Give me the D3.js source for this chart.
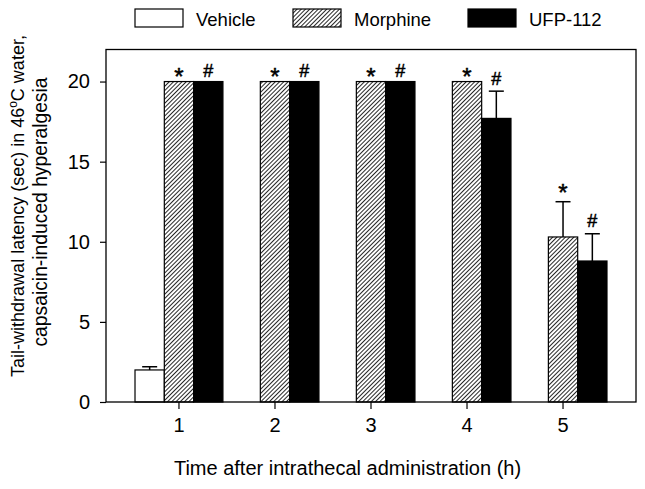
<!DOCTYPE html>
<html>
<head>
<meta charset="utf-8">
<script src="https://cdn.jsdelivr.net/npm/d3@7"></script>
<style>
  html, body { margin: 0; padding: 0; background: #fff; }
  svg { display: block; font-family: "Liberation Sans", Arial, sans-serif; }
</style>
</head>
<body>
<svg id="chart" width="645" height="489"></svg>
<script>
// ---- data ----
const categories = ["1", "2", "3", "4", "5"];
const seriesNames = ["Vehicle", "Morphine", "UFP-112"];
const vehicle = [2.0, null, null, null, null];
const vehicleErr = [0.2, null, null, null, null];
const morphine = [20, 20, 20, 20, 10.3];
const morphineErr = [0, 0, 0, 0, 2.2];
const ufp112 = [20, 20, 20, 17.7, 8.8];
const ufp112Err = [0, 0, 0, 1.7, 1.7];
const morphineMarks = ["*", "*", "*", "*", "*"];
const ufp112Marks = ["#", "#", "#", "#", "#"];
const yTicks = [0, 5, 10, 15, 20];
const xTitle = "Time after intrathecal administration (h)";
const yTitle1a = "Tail-withdrawal latency (sec) in 46";
const yTitle1b = "o";
const yTitle1c = "C water,";
const yTitle2 = "capsaicin-induced hyperalgesia";

// ---- layout ----
const svg = d3.select("#chart");
const L = 106, R = 636, T = 49.5, B = 402;

const x = d3.scaleBand().domain(categories).range([L, R]).paddingInner(0).paddingOuter(0.26);
const xs = d3.scaleBand().domain(seriesNames).range([0, x.bandwidth()]).paddingInner(0).paddingOuter(0.138);
const y = d3.scaleLinear().domain([0, 22]).range([B, T]);

// hatch pattern
const defs = svg.append("defs");
const pat = defs.append("pattern")
  .attr("id", "hatch").attr("patternUnits", "userSpaceOnUse")
  .attr("width", 3).attr("height", 3)
  .attr("patternTransform", "rotate(45)");
pat.append("rect").attr("width", 3).attr("height", 3).attr("fill", "#fff");
pat.append("line").attr("x1", 0).attr("y1", 0).attr("x2", 0).attr("y2", 3)
  .attr("stroke", "#000").attr("stroke-width", 1.7);

const fills = { "Vehicle": "#fff", "Morphine": "url(#hatch)", "UFP-112": "#000" };
const series = [
  { name: "Vehicle", vals: vehicle, errs: vehicleErr, marks: null },
  { name: "Morphine", vals: morphine, errs: morphineErr, marks: morphineMarks },
  { name: "UFP-112", vals: ufp112, errs: ufp112Err, marks: ufp112Marks }
];

// bars
series.forEach(s => {
  const g = svg.append("g");
  categories.forEach((c, i) => {
    const v = s.vals[i];
    if (v == null) return;
    const bx = x(c) + xs(s.name);
    const bw = xs.bandwidth();
    g.append("rect")
      .attr("x", bx).attr("y", y(v))
      .attr("width", bw).attr("height", y(0) - y(v))
      .attr("fill", fills[s.name]).attr("stroke", "#000").attr("stroke-width", 1.2);
    const e = s.errs[i];
    const hasErr = e != null && e > 0;
    const cx = bx + bw / 2;
    let topY = y(v);
    if (hasErr) {
      const ey = y(v + e);
      g.append("line").attr("x1", cx).attr("x2", cx).attr("y1", y(v)).attr("y2", ey)
        .attr("stroke", "#000").attr("stroke-width", 1.5);
      g.append("line").attr("x1", cx - 7.5).attr("x2", cx + 7.5).attr("y1", ey).attr("y2", ey)
        .attr("stroke", "#000").attr("stroke-width", 1.5);
      topY = ey;
    }
    if (s.marks && s.marks[i]) {
      const m = s.marks[i];
      const isStar = m === "*";
      const off = isStar ? (hasErr ? 0.5 : -3.6) : (hasErr ? 6.5 : 4.6);
      g.append("text")
        .attr("x", cx)
        .attr("y", topY - off)
        .attr("text-anchor", "middle")
        .attr("font-family", "'Liberation Sans', Arial, sans-serif")
        .attr("font-size", isStar ? 24 : 18)
        .attr("fill", "#000")
        .attr("stroke", "#000").attr("stroke-width", 0.5)
        .text(m);
    }
  });
});

// frame
svg.append("rect").attr("x", L).attr("y", T).attr("width", R - L).attr("height", B - T)
  .attr("fill", "none").attr("stroke", "#000").attr("stroke-width", 1.3);

// axes
const yAxis = svg.append("g").attr("transform", `translate(${L},0)`)
  .call(d3.axisLeft(y).tickValues(yTicks).tickSize(6).tickPadding(10).tickFormat(d3.format("d")));
yAxis.select(".domain").remove();
yAxis.selectAll("line").attr("stroke", "#000").attr("stroke-width", 1.2);
yAxis.selectAll("text").attr("font-size", 20).attr("fill", "#000")
  .attr("font-family", "'Liberation Sans', Arial, sans-serif");

const xAxis = svg.append("g").attr("transform", `translate(0,${B})`)
  .call(d3.axisBottom(x).tickSize(7).tickPadding(9));
xAxis.select(".domain").remove();
xAxis.selectAll("line").attr("stroke", "#000").attr("stroke-width", 1.2);
xAxis.selectAll("text").attr("font-size", 20).attr("fill", "#000")
  .attr("font-family", "'Liberation Sans', Arial, sans-serif");

// axis titles
svg.append("text").attr("x", 347.5).attr("y", 475)
  .attr("text-anchor", "middle").attr("font-size", 20).attr("fill", "#000")
  .text(xTitle);

const yt = svg.append("text").attr("transform", "translate(24,206) rotate(-90)")
  .attr("text-anchor", "middle").attr("font-size", 18).attr("fill", "#000");
yt.append("tspan").text(yTitle1a);
yt.append("tspan").attr("font-size", 12).attr("dy", -7).text(yTitle1b);
yt.append("tspan").attr("dy", 7).text(yTitle1c);

svg.append("text").attr("transform", "translate(47,212) rotate(-90)")
  .attr("text-anchor", "middle").attr("font-size", 19.3).attr("fill", "#000")
  .text(yTitle2);

// legend
const legendX = [135, 293, 468];
const lg = svg.append("g");
seriesNames.forEach((n, i) => {
  lg.append("rect").attr("x", legendX[i]).attr("y", 9).attr("width", 48).attr("height", 18)
    .attr("fill", fills[n]).attr("stroke", "#000").attr("stroke-width", 1.2);
  lg.append("text").attr("x", legendX[i] + 61).attr("y", 25.5)
    .attr("font-size", 18.5).attr("fill", "#000").text(n);
});
</script>
</body>
</html>
